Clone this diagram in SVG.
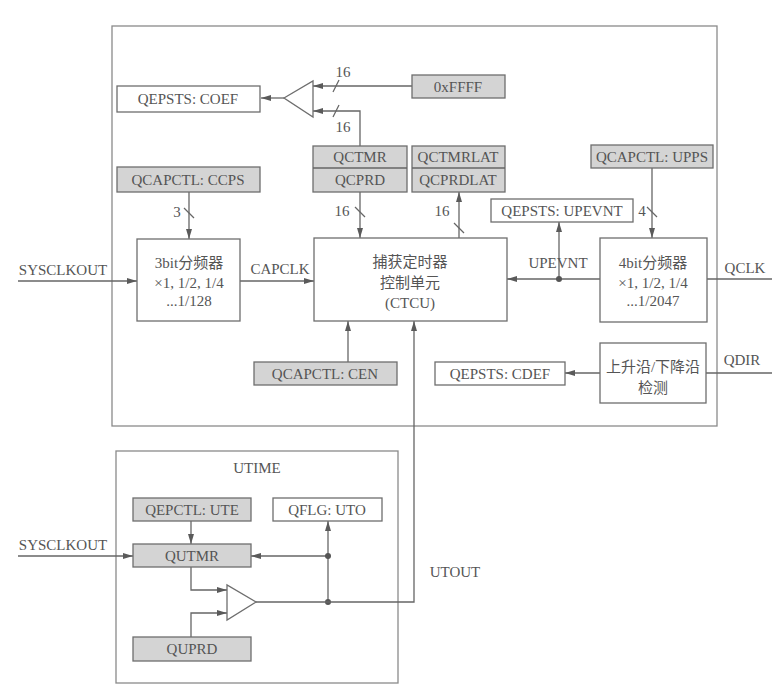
<svg xmlns="http://www.w3.org/2000/svg" width="774" height="693" viewBox="0 0 774 693">
<defs>
<marker id="ah" markerUnits="userSpaceOnUse" markerWidth="11" markerHeight="6" refX="10" refY="3" orient="auto">
<path d="M0,0 L10,3 L0,6 Z" fill="#5a5a5a"/>
</marker>
<style>
.frame{fill:none;stroke:#8a8a8a;stroke-width:1.3}
.box{fill:#fff;stroke:#6e6e6e;stroke-width:1.3}
.reg{fill:#d4d4d4;stroke:#6e6e6e;stroke-width:1.3}
.ln{fill:none;stroke:#666;stroke-width:1.3}
.arr{fill:none;stroke:#666;stroke-width:1.3;marker-end:url(#ah)}
.t{font-family:"Liberation Serif","Noto Sans CJK SC",serif;font-size:15px;fill:#555;text-anchor:middle}
.c{font-family:"Liberation Serif","Noto Sans CJK SC",serif;font-size:15px;fill:#555;text-anchor:middle}
.dot{fill:#555}
</style>
</defs>
<rect width="774" height="693" fill="#fff"/>
<rect class="frame" x="112" y="26" width="605" height="400"/>
<rect class="frame" x="116" y="451" width="282" height="232"/>

<g id="connectors">
<!-- COEF mux -->
<polyline class="arr" points="284,98 261,98"/>
<line class="arr" x1="412" y1="86" x2="313" y2="86"/>
<polyline class="arr" points="360,146 360,111 313,111"/>
<line class="ln" x1="333" y1="92" x2="339" y2="80"/>
<line class="ln" x1="333" y1="117" x2="339" y2="105"/>
<!-- QCPRD -> CTCU -->
<line class="arr" x1="360" y1="192" x2="360" y2="238"/>
<line class="ln" x1="355" y1="207" x2="365" y2="217"/>
<!-- CTCU -> QCPRDLAT -->
<line class="arr" x1="459" y1="238" x2="459" y2="192"/>
<line class="ln" x1="454" y1="223" x2="464" y2="233"/>
<!-- CCPS -> 3bit -->
<line class="arr" x1="189" y1="192" x2="189" y2="239"/>
<line class="ln" x1="184" y1="208" x2="194" y2="218"/>
<!-- UPPS -> 4bit -->
<line class="arr" x1="652" y1="168" x2="652" y2="238"/>
<line class="ln" x1="647" y1="207" x2="657" y2="217"/>
<!-- SYSCLKOUT -> 3bit -->
<line class="arr" x1="18" y1="281" x2="137" y2="281"/>
<!-- CAPCLK -->
<line class="arr" x1="240" y1="281" x2="314" y2="281"/>
<!-- 4bit -> CTCU -->
<line class="arr" x1="600" y1="279" x2="507" y2="279"/>
<line class="arr" x1="559" y1="279" x2="559" y2="222"/>
<circle class="dot" cx="559" cy="279" r="3"/>
<!-- QCLK -->
<line class="ln" x1="707" y1="279" x2="772" y2="279"/>
<!-- CEN -->
<line class="arr" x1="348" y1="362" x2="348" y2="321"/>
<!-- edge detect -->
<line class="arr" x1="600" y1="373" x2="565" y2="373"/>
<line class="ln" x1="706" y1="373" x2="772" y2="373"/>
<!-- UTIME internals -->
<line class="arr" x1="191" y1="521" x2="191" y2="544"/>
<line class="arr" x1="18" y1="556" x2="133" y2="556"/>
<line class="arr" x1="328" y1="556" x2="251" y2="556"/>
<line class="arr" x1="328" y1="602" x2="328" y2="521"/>
<circle class="dot" cx="328" cy="556" r="3"/>
<circle class="dot" cx="328" cy="602" r="3"/>
<polyline class="arr" points="191,567 191,590 227,590"/>
<polyline class="arr" points="191,637 191,613 227,613"/>
<polyline class="arr" points="256,602 414,602 414,321"/>
</g>

<g id="triangle-coef"><polygon class="box" points="284,98 313,81 313,117"/></g>
<g id="triangle-ut"><polygon class="box" points="227,585 227,620 256,602"/></g>

<g id="coef"><rect class="box" x="117" y="86" width="143" height="26"/><text class="t" x="188" y="104">QEPSTS: COEF</text></g>
<g id="ffff"><rect class="reg" x="412" y="75" width="93" height="23"/><text class="t" x="458" y="92">0xFFFF</text></g>
<g id="qctmr"><rect class="reg" x="313" y="146" width="94" height="46"/><line class="ln" x1="313" y1="168" x2="407" y2="168"/><text class="t" x="360" y="162">QCTMR</text><text class="t" x="360" y="185">QCPRD</text></g>
<g id="qctmrlat"><rect class="reg" x="412" y="146" width="93" height="46"/><line class="ln" x1="412" y1="168" x2="505" y2="168"/><text class="t" x="458" y="162">QCTMRLAT</text><text class="t" x="458" y="185">QCPRDLAT</text></g>
<g id="ccps"><rect class="reg" x="117" y="167" width="143" height="25"/><text class="t" x="188" y="185">QCAPCTL: CCPS</text></g>
<g id="upps"><rect class="reg" x="591" y="145" width="122" height="23"/><text class="t" x="652" y="162">QCAPCTL: UPPS</text></g>
<g id="upevnt"><rect class="box" x="491" y="199" width="142" height="23"/><text class="t" x="562" y="216">QEPSTS: UPEVNT</text></g>
<g id="div3"><rect class="box" x="137" y="239" width="103" height="82"/><text class="c" x="189" y="268">3bit分频器</text><text class="c" x="189" y="288">×1, 1/2, 1/4</text><text class="c" x="189" y="306">...1/128</text></g>
<g id="ctcu"><rect class="box" x="314" y="238" width="193" height="83"/><text class="c" x="410" y="267">捕获定时器</text><text class="c" x="410" y="288">控制单元</text><text class="c" x="410" y="308">(CTCU)</text></g>
<g id="div4"><rect class="box" x="600" y="238" width="107" height="84"/><text class="c" x="653" y="268">4bit分频器</text><text class="c" x="653" y="288">×1, 1/2, 1/4</text><text class="c" x="653" y="306">...1/2047</text></g>
<g id="cen"><rect class="reg" x="254" y="362" width="143" height="23"/><text class="t" x="325" y="379">QCAPCTL: CEN</text></g>
<g id="cdef"><rect class="box" x="435" y="362" width="130" height="23"/><text class="t" x="500" y="379">QEPSTS: CDEF</text></g>
<g id="edge"><rect class="box" x="600" y="343" width="106" height="60"/><text class="c" x="653" y="372">上升沿/下降沿</text><text class="c" x="653" y="393">检测</text></g>
<g id="ute"><rect class="reg" x="133" y="498" width="118" height="23"/><text class="t" x="192" y="515">QEPCTL: UTE</text></g>
<g id="uto"><rect class="box" x="273" y="498" width="109" height="23"/><text class="t" x="327" y="515">QFLG: UTO</text></g>
<g id="qutmr"><rect class="reg" x="133" y="544" width="118" height="23"/><text class="t" x="192" y="561">QUTMR</text></g>
<g id="quprd"><rect class="reg" x="133" y="637" width="118" height="24"/><text class="t" x="192" y="654">QUPRD</text></g>

<g id="labels">
<text class="t" x="343" y="77">16</text>
<text class="t" x="343" y="132">16</text>
<text class="t" x="342" y="216">16</text>
<text class="t" x="442" y="216">16</text>
<text class="t" x="177" y="217">3</text>
<text class="t" x="642" y="216">4</text>
<text class="t" x="63" y="275">SYSCLKOUT</text>
<text class="t" x="280" y="274">CAPCLK</text>
<text class="t" x="558" y="268">UPEVNT</text>
<text class="t" x="745" y="273">QCLK</text>
<text class="t" x="742" y="365">QDIR</text>
<text class="t" x="257" y="473">UTIME</text>
<text class="t" x="63" y="550">SYSCLKOUT</text>
<text class="t" x="455" y="577">UTOUT</text>
</g>
</svg>
